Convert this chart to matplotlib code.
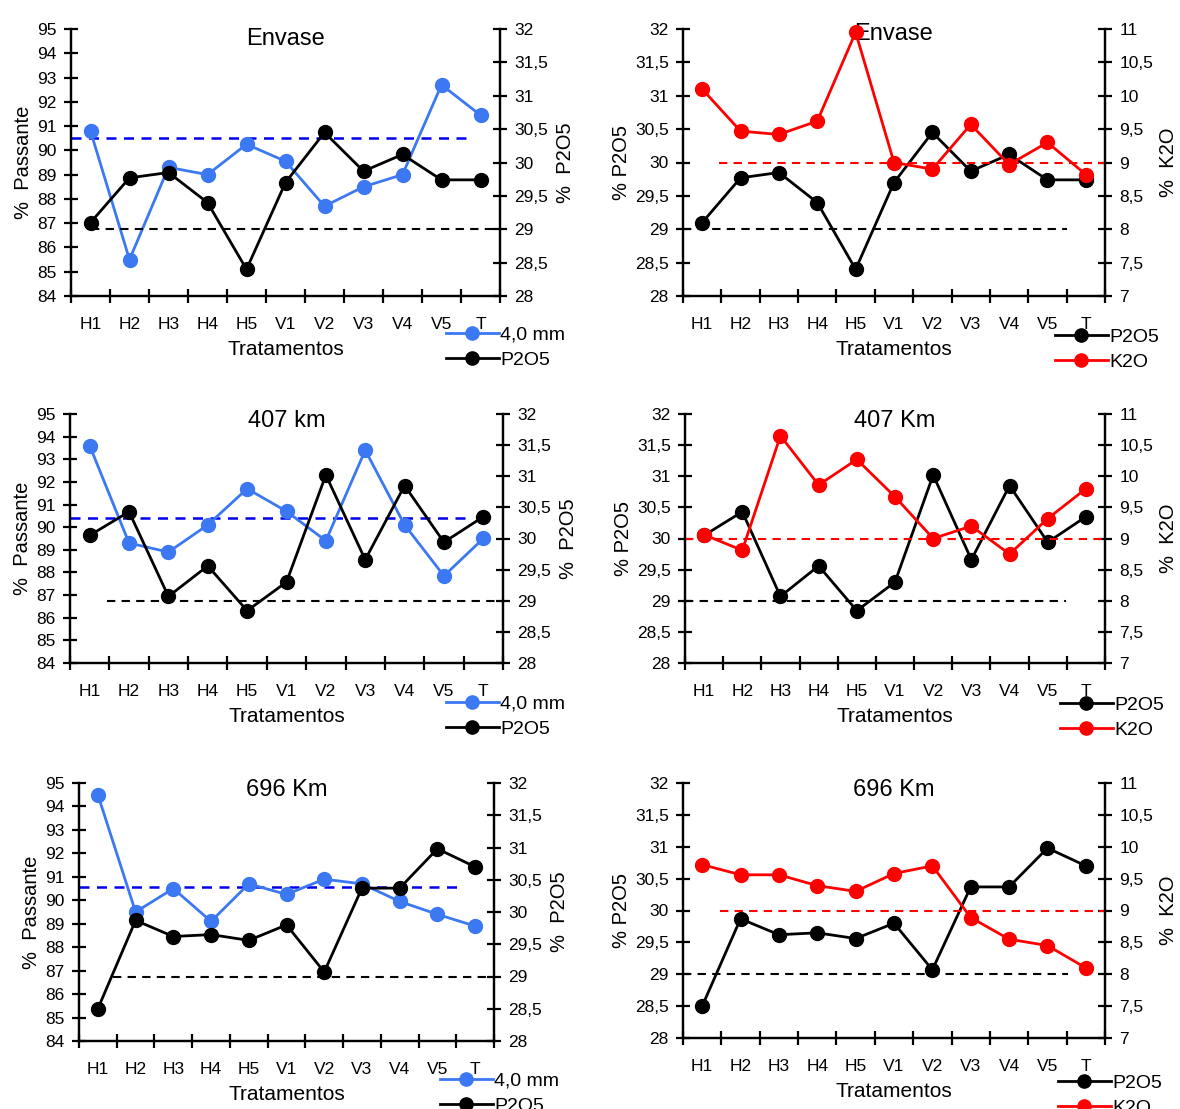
import numpy as np
import matplotlib
matplotlib.use("Agg")
import matplotlib.pyplot as plt
from matplotlib.lines import Line2D
from matplotlib.ticker import FuncFormatter

plt.rcParams['font.family'] = ['Liberation Sans', 'DejaVu Sans']

W, H = 1180, 1109

trat = ["H1", "H2", "H3", "H4", "H5", "V1", "V2", "V3", "V4", "V5", "T"]

# % passante 4,0 mm
env_mm = [90.8, 85.5, 89.3, 89.0, 90.25, 89.55, 87.7, 88.5, 89.0, 92.7, 91.45]
km407_mm = [93.6, 89.3, 88.9, 90.1, 91.7, 90.7, 89.4, 93.4, 90.1, 87.85, 89.5]
km696_mm = [94.5, 89.5, 90.5, 89.1, 90.7, 90.25, 90.9, 90.7, 89.95, 89.4, 88.9]

# % P2O5
env_p = [29.1, 29.77, 29.85, 29.4, 28.4, 29.7, 30.45, 29.87, 30.12, 29.74, 29.74]
km407_p = [30.05, 30.43, 29.07, 29.56, 28.84, 29.3, 31.02, 29.66, 30.85, 29.94, 30.35]
km696_p = [28.5, 29.87, 29.62, 29.65, 29.56, 29.8, 29.07, 30.37, 30.37, 30.98, 30.7]

# % K2O
env_k = [10.1, 9.47, 9.42, 9.62, 10.95, 9.0, 8.9, 9.57, 8.97, 9.3, 8.82]
km407_k = [9.06, 8.81, 10.65, 9.86, 10.27, 9.67, 9.0, 9.2, 8.75, 9.32, 9.8]
km696_k = [9.72, 9.56, 9.56, 9.39, 9.3, 9.58, 9.7, 8.89, 8.55, 8.45, 8.1]

# reference (dashed) levels
ref_mm = [90.5, 90.42, 90.57]
ref_p = 29.0
ref_k = 9.0

BLUE = "#3b78f2"
RED = "#ff0000"
LW = 1.6

fig = plt.figure(figsize=(W / 100, H / 100), dpi=100)


def comma(v, pos):
    return f"{v:g}".replace(".", ",")


def frame(l, t, r, b):
    ax = fig.add_axes([l / W, 1 - b / H, (r - l) / W, (b - t) / H])
    tw = ax.twinx()
    for a in (ax, tw):
        a.spines['top'].set_visible(False)
        for sp in a.spines.values():
            sp.set_linewidth(LW)
        a.tick_params(axis='y', direction='inout', length=10.5, width=LW,
                      labelsize=12.5, pad=5)
        a.yaxis.set_major_formatter(FuncFormatter(comma))
    ax.set_xlim(-0.5, 10.5)
    ax.set_xticks(range(len(trat)))
    ax.set_xticklabels(trat)
    ax.set_xticks(np.arange(-0.5, 11, 1), minor=True)
    ax.tick_params(axis='x', which='major', length=0, pad=15, labelsize=12.5)
    ax.tick_params(axis='x', which='minor', direction='inout', length=10, width=LW)
    ax.set_xlabel("Tratamentos", fontsize=15, labelpad=6)
    return ax, tw


def series(ax, y, color, z=3):
    ax.plot(range(len(trat)), y, "-", color=color, lw=2, marker="o", ms=10,
            zorder=z, clip_on=False)


def legend(x, y, labels, colors):
    hs = [Line2D([], [], color=c, lw=2, marker="o", ms=9.5) for c in colors]
    fig.legend(hs, labels, loc="upper left", bbox_to_anchor=(x / W, 1 - y / H),
               frameon=False, fontsize=14, handlelength=2.7, handletextpad=0.1,
               labelspacing=0.38, borderpad=0, borderaxespad=0)


def title(ax, text, dy):
    ax.annotate(text, (0.5, 1), xycoords="axes fraction",
                xytext=(0, -dy), textcoords="offset pixels",
                ha="center", va="center", fontsize=17)


def left_panel(rect, name, mm, p, refmm, bx1, kx0, leg, dy=7):
    ax, tw = frame(*rect)
    ax.set_ylim(84, 95)
    ax.set_yticks(range(84, 96))
    tw.set_ylim(28, 32)
    tw.set_yticks(np.arange(28, 32.01, 0.5))
    ax.plot([-0.5, bx1], [refmm, refmm], "--", color="#0000ee", lw=1.8,
            dashes=(4, 3))
    series(ax, mm, BLUE)
    tw.plot([kx0, 10.5], [ref_p, ref_p], "--", color="black", lw=1.5,
            dashes=(4, 3))
    series(tw, p, "black")
    ax.set_ylabel("%  Passante", fontsize=14.5, labelpad=3)
    tw.set_ylabel("%  P2O5", fontsize=14.5, labelpad=6)
    title(ax, name, dy)
    legend(*leg, ["4,0 mm", "P2O5"], [BLUE, "black"])


def right_panel(rect, name, p, k, kx0, px1, leg, dy=7):
    ax, tw = frame(*rect)
    ax.set_ylim(28, 32)
    ax.set_yticks(np.arange(28, 32.01, 0.5))
    tw.set_ylim(7, 11)
    tw.set_yticks(np.arange(7, 11.01, 0.5))
    ax.plot([-0.5, px1], [ref_p, ref_p], "--", color="black", lw=1.5,
            dashes=(4, 3))
    series(ax, p, "black")
    tw.plot([kx0, 10.5], [ref_k, ref_k], "--", color=RED, lw=1.5,
            dashes=(4, 3))
    series(tw, k, RED)
    ax.set_ylabel("% P2O5", fontsize=14.5, labelpad=3)
    tw.set_ylabel("%  K2O", fontsize=14.5, labelpad=4)
    title(ax, name, dy)
    legend(*leg, ["P2O5", "K2O"], ["black", RED])


left_panel((71, 29, 500, 296), "Envase", env_mm, env_p, ref_mm[0], 9.8, 0.0,
           (446, 326), dy=10)
right_panel((683, 29, 1105, 296), "Envase", env_p, env_k, 0.43, 9.5,
            (1055, 328), dy=5)
left_panel((70, 414, 503, 663), "407 km", km407_mm, km407_p, ref_mm[1], 9.64,
           0.45, (446, 695))
right_panel((685, 414, 1105, 663), "407 Km", km407_p, km407_k, -0.5, 9.47,
            (1060, 696))
left_panel((79, 783, 494, 1041), "696 Km", km696_mm, km696_p, ref_mm[2], 9.59,
           0.39, (440, 1072))
right_panel((683, 783, 1105, 1038), "696 Km", km696_p, km696_k, 0.46, 9.54,
            (1058, 1074))

fig.savefig("out.png", dpi=100)
